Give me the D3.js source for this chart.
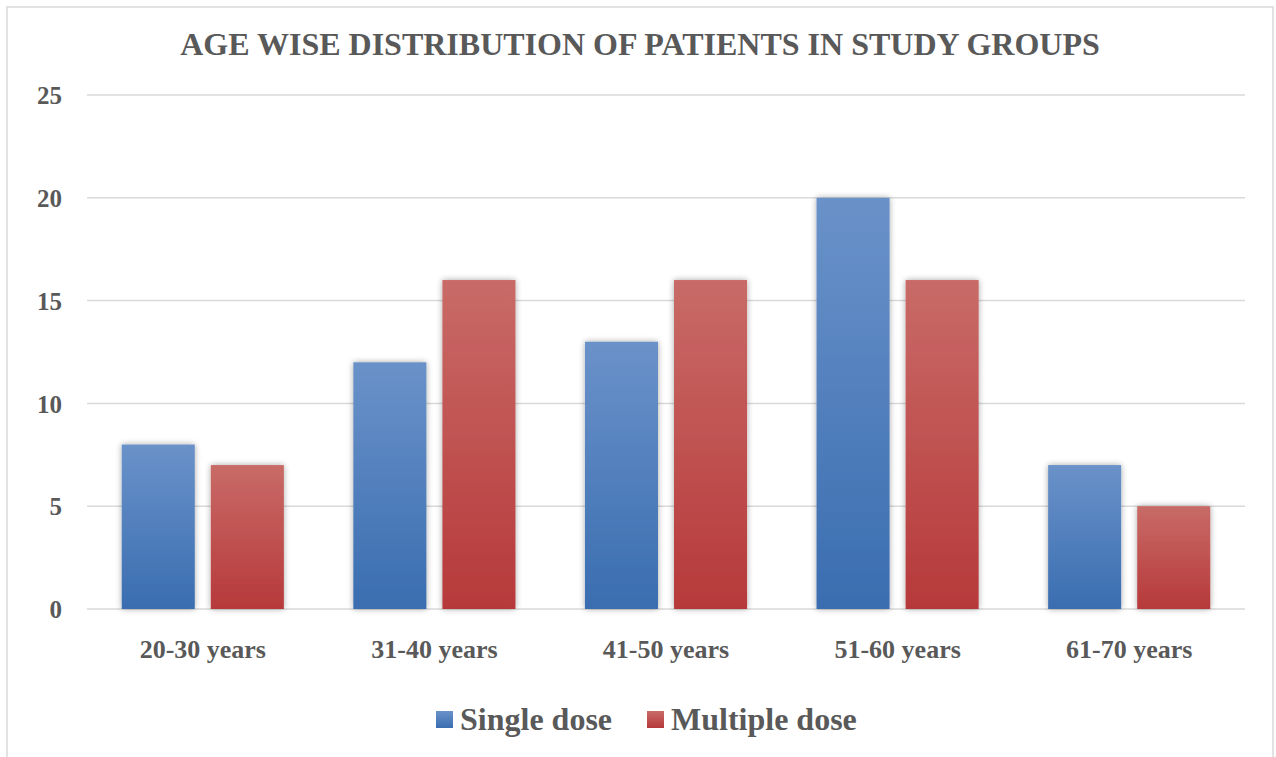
<!DOCTYPE html>
<html><head><meta charset="utf-8">
<script src="https://cdn.jsdelivr.net/npm/d3@7"></script>
<style>body{margin:0;background:#fff}svg{display:block}</style>
</head><body><svg id="c" width="1276" height="757"></svg>
<script>
const categories = ["20-30 years","31-40 years","41-50 years","51-60 years","61-70 years"];
const seriesNames = ["Single dose","Multiple dose"];
const singleDose = [8,12,13,20,7];
const multipleDose = [7,16,16,16,5];
const yTicks = [0,5,10,15,20,25];
const title = "AGE WISE DISTRIBUTION OF PATIENTS IN STUDY GROUPS";

const svg = d3.select("#c");
const font = "'Liberation Serif','Times New Roman',serif";
const txt = "#595959";

const defs = svg.append("defs");
const grads = [["gBlue","#6a92c9","#3a6db0"],["gRed","#c86b67","#b7393a"]];
grads.forEach(([id,a,b])=>{
  const g = defs.append("linearGradient").attr("id",id).attr("x1",0).attr("y1",0).attr("x2",0).attr("y2",1);
  g.append("stop").attr("offset","0%").attr("stop-color",a);
  g.append("stop").attr("offset","100%").attr("stop-color",b);
});
const f = defs.append("filter").attr("id","sh").attr("x","-20%").attr("y","-20%").attr("width","140%").attr("height","140%");
f.append("feGaussianBlur").attr("in","SourceAlpha").attr("stdDeviation",3).attr("result","b");
f.append("feComponentTransfer").attr("in","b").attr("result","o2").append("feFuncA").attr("type","linear").attr("slope",0.35);
const m = f.append("feMerge"); m.append("feMergeNode").attr("in","o2"); m.append("feMergeNode").attr("in","SourceGraphic");

// border
svg.append("rect").attr("x",7).attr("y",7).attr("width",1266).attr("height",770)
  .attr("fill","#fff").attr("stroke","#d9d9d9").attr("stroke-width",1.5);

const x0 = d3.scaleBand().domain(categories).range([87,1245]).paddingInner(0.3).paddingOuter(0.15);
const x1 = d3.scaleBand().domain(seriesNames).range([0,x0.bandwidth()]).paddingInner(0.18);
const y = d3.scaleLinear().domain([0,25]).range([609,95]);

// grid
svg.append("g").selectAll("line").data(yTicks).join("line")
  .attr("x1",87).attr("x2",1245).attr("y1",d=>y(d)).attr("y2",d=>y(d))
  .attr("stroke","#d9d9d9").attr("stroke-width",1.5);

// y labels
const yAxis = d3.axisLeft(y).tickValues(yTicks).tickSize(0).tickPadding(25);
const ya = svg.append("g").attr("transform","translate(87,0)").call(yAxis);
ya.select(".domain").remove();
ya.selectAll("text").attr("font-family",font).attr("font-weight","bold").attr("font-size",25).attr("fill",txt).attr("dy","0.35em");

// bars
const data = categories.map((c,i)=>({c, vals:[{s:seriesNames[0],v:singleDose[i],g:"gBlue"},{s:seriesNames[1],v:multipleDose[i],g:"gRed"}]}));
const grp = svg.append("g").selectAll("g").data(data).join("g").attr("transform",d=>`translate(${x0(d.c)},0)`);
grp.selectAll("rect").data(d=>d.vals).join("rect")
  .attr("x",d=>x1(d.s)).attr("width",x1.bandwidth())
  .attr("y",d=>y(d.v)).attr("height",d=>y(0)-y(d.v))
  .attr("fill",d=>`url(#${d.g})`).attr("filter","url(#sh)");

// x labels
const xAxis = d3.axisBottom(x0).tickSize(0).tickPadding(0);
const xa = svg.append("g").attr("transform","translate(0,609)").call(xAxis);
xa.select(".domain").remove();
xa.selectAll("text").attr("font-family",font).attr("font-weight","bold").attr("font-size",26).attr("fill",txt).attr("y",49).attr("dy",0);

// title
svg.append("text").attr("x",640).attr("y",55).attr("text-anchor","middle")
  .attr("font-family",font).attr("font-weight","bold").attr("font-size",32).attr("fill",txt).text(title);

// legend
const leg = [{s:seriesNames[0],g:"gBlue",x:436},{s:seriesNames[1],g:"gRed",x:647}];
const lg = svg.append("g").selectAll("g").data(leg).join("g").attr("transform",d=>`translate(${d.x},0)`);
lg.append("rect").attr("x",0).attr("y",711).attr("width",17).attr("height",17).attr("fill",d=>`url(#${d.g})`);
lg.append("text").attr("x",24).attr("y",730).attr("font-family",font).attr("font-weight","bold").attr("font-size",32).attr("fill",txt).text(d=>d.s);
</script></body></html>
